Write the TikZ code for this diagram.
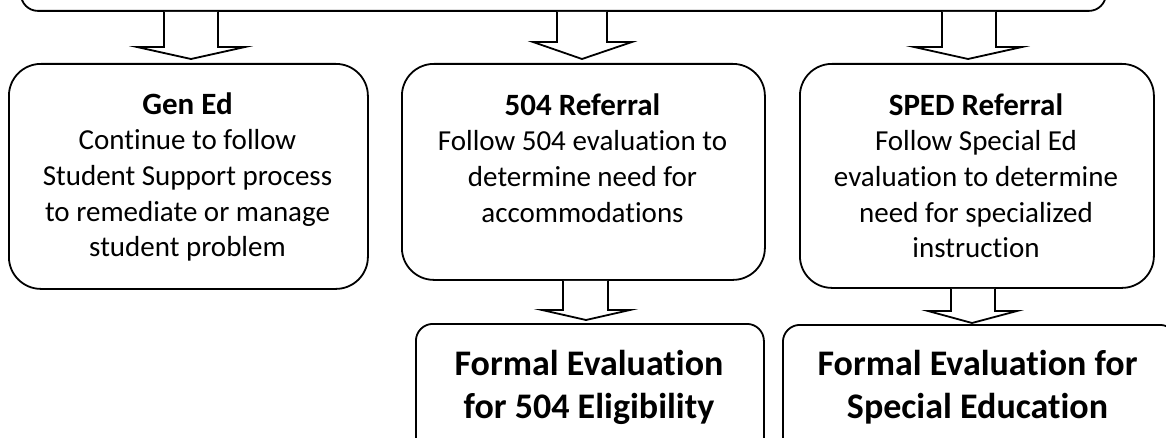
\documentclass[tikz,border=0pt]{standalone}
\usepackage{fontspec}
\setmainfont{Carlito}[Ligatures={NoCommon,NoContextual},RawFeature={-liga;-clig;-dlig}]
\newcommand\hdr[1]{\rule{0pt}{25pt}{\fontsize{31}{35.7}\selectfont\bfseries #1}}
\newcommand\evtop{\rule{0pt}{30pt}}
\tikzset{
  boxshape/.style={draw, line width=1.8pt, inner sep=0pt, anchor=north west},
  bigbox/.style={boxshape, rounded corners=32pt},
  smallbox/.style={boxshape, rounded corners=17pt},
  bodytext/.style={inner sep=0pt, anchor=north, align=center, font=\fontsize{29}{35.7}\selectfont},
  evaltext/.style={inner sep=0pt, anchor=north, align=center, font=\fontsize{36}{43}\selectfont\bfseries},
  blockarrow/.style={draw, line width=1.8pt, fill=white, line join=miter},
}
\begin{document}
\begin{tikzpicture}[x=1pt,y=-1pt]
\useasboundingbox (0,0) rectangle (1166,438);

% boxes
\node[smallbox, minimum width=1085pt, minimum height=90pt] (top) at (20,-80) {};
\node[bigbox, minimum width=359pt, minimum height=225pt] (gen) at (8,63) {};
\node[bigbox, minimum width=363pt, minimum height=216pt] (r504) at (401,63) {};
\node[bigbox, minimum width=354pt, minimum height=224pt] (sped) at (799,63) {};
\node[smallbox, minimum width=348pt, minimum height=132pt] (e504) at (415,323) {};
\node[smallbox, minimum width=394pt, minimum height=131pt] (esped) at (782,324) {};

% block arrows
\draw[blockarrow] (164,0 |- top.south) -- (164,47) -- (137,47) -- (191,59) -- (245,47) -- (218,47) -- (218,0 |- top.south);
\draw[blockarrow] (557,0 |- top.south) -- (557,42) -- (533,42) -- (582,59) -- (632,42) -- (607,42) -- (607,0 |- top.south);
\draw[blockarrow] (942,0 |- top.south) -- (942,47) -- (914,47) -- (968,59) -- (1022,47) -- (996,47) -- (996,0 |- top.south);
\draw[blockarrow] (563,0 |- r504.south) -- (563,310) -- (542,310) -- (586,320) -- (630,310) -- (608,310) -- (608,0 |- r504.south);
\draw[blockarrow] (951,0 |- sped.south) -- (951,311) -- (928,311) -- (972,323) -- (1017,311) -- (995,311) -- (995,0 |- sped.south);

% texts
\node[bodytext] (genT) at (187.5,89) {\hdr{Gen Ed}\\Continue to follow\\Student Support process\\to remediate or manage\\student problem};
\node[bodytext] (r504T) at (582.5,90) {\hdr{504 Referral}\\Follow 504 evaluation to\\determine need for\\accommodations};
\node[bodytext] (spedT) at (976,90) {\hdr{SPED Referral}\\Follow Special Ed\\evaluation to determine\\need for specialized\\instruction};
\node[evaltext] (e504T) at (589,345) {\evtop Formal Evaluation\\for 504 Eligibility};
\node[evaltext] (espedT) at (977.5,345) {\evtop Formal Evaluation for\\Special Education};
\end{tikzpicture}
\end{document}
